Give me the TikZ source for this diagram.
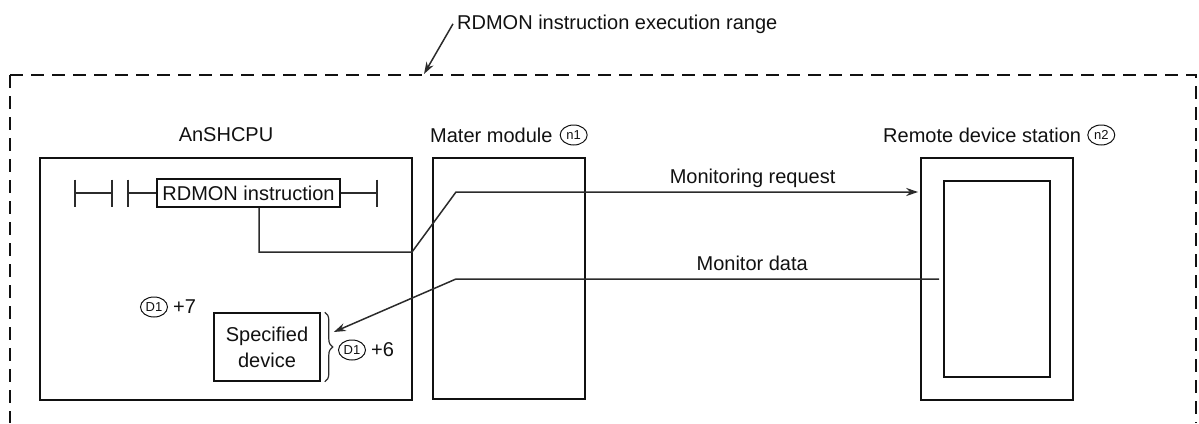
\documentclass[tikz,border=0pt]{standalone}
\usepackage{fontspec}
\setmainfont{Liberation Sans}
\usepackage{xcolor}
\usetikzlibrary{arrows.meta,positioning,calc,shapes.geometric,decorations.pathreplacing}
\definecolor{ink}{HTML}{111111}
\definecolor{wirec}{HTML}{2B2B2B}
\tikzset{
  unit/.style={draw=ink, line width=1.6pt, inner sep=0pt},
  txt/.style={font=\fontsize{20}{26}\selectfont, text=ink, inner sep=0pt},
  tag/.style={ellipse, draw=ink, line width=1pt, inner sep=0pt, minimum width=27pt, minimum height=20pt, font=\fontsize{13}{13}\selectfont, text=ink},
  wire/.style={draw=wirec, line width=1.5pt},
}

\begin{document}
\begin{tikzpicture}[x=1pt, y=-1pt, >={Stealth[length=12pt, width=8pt]}]
  \useasboundingbox (0,0) rectangle (1199,423);

  % execution range
  \draw[ink, line width=2pt, dash pattern=on 13pt off 8pt] (10,75) -- (10,423);
  \draw[ink, line width=2pt, dash pattern=on 13pt off 8pt] (10,75) -- (1196,75) -- (1196,423);
  \node[txt, anchor=base west] (range) at (457,29) {RDMON instruction execution range};
  \coordinate (rangetip) at (424,74);
  \draw[wire, ->] ([xshift=-4pt]range.west) -- (rangetip);

  % units
  \node[unit, minimum width=372pt, minimum height=242pt] (cpu) at (226,279) {};
  \node[txt] (cpulbl) at (226,135) {AnSHCPU};
  \node[unit, minimum width=152pt, minimum height=241pt] (master) at (509,278.5) {};
  \node[txt, anchor=west] (mstlbl) at (430,135) {Mater module};
  \node[tag, right=7pt of mstlbl] (n1) {n1};
  \node[unit, minimum width=152pt, minimum height=242pt] (remote) at (997,279) {};
  \node[unit, minimum width=106pt, minimum height=196pt] (panel) at (997,279) {};
  \node[txt, anchor=west] (rmtlbl) at (883,135) {Remote device station};
  \node[tag, right=6pt of rmtlbl] (n2) {n2};

  % ladder line
  \node[unit, txt, minimum width=183pt, minimum height=28pt] (instr) at (248.5,193) {RDMON instruction};
  \coordinate (lrail) at (75,193);
  \coordinate (ca) at (112,193);
  \coordinate (cb) at (128,193);
  \coordinate (rrail) at (377,193);
  \foreach \c in {lrail,ca,cb,rrail}
    \draw[wire] ([yshift=13.5pt]\c) -- ([yshift=-13.5pt]\c);
  \draw[wire] (lrail) -- (ca);
  \draw[wire] (cb) -- (instr.west);
  \draw[wire] (instr.east) -- (rrail);

  % specified device
  \node[unit, txt, minimum width=106pt, minimum height=68pt, align=center] (spec) at (267,347) {Specified\\device};
  \draw[wire, line width=1.2pt, decorate, decoration={brace, amplitude=8pt}]
    ([xshift=4pt]spec.north east) -- ([xshift=4pt]spec.south east);
  \node[tag] (d1a) at (154,307) {D1};
  \node[txt, right=5pt of d1a] (plus7) {+7};
  \node[tag] (d1b) at (352,350) {D1};
  \node[txt, right=5pt of d1b] (plus6) {+6};

  % monitoring request
  \coordinate (reqA) at (412,252);
  \coordinate (reqB) at (456,192);
  \draw[wire, ->, shorten >=2pt] ([xshift=10.5pt]instr.south) |- (reqA) -- (reqB) -- (reqB -| remote.west)
    node[txt, pos=0.639, anchor=base, yshift=9pt] (reqlbl) {Monitoring request};

  % monitor data
  \coordinate (datA) at (456,279);
  \coordinate (dtip) at ($(spec.east)+(13,-15)$);
  \draw[wire, ->] ([xshift=-4pt]panel.west) -- (datA)
    node[txt, pos=0.387, anchor=base, yshift=9pt] (datlbl) {Monitor data} -- (dtip);
\end{tikzpicture}
\end{document}
